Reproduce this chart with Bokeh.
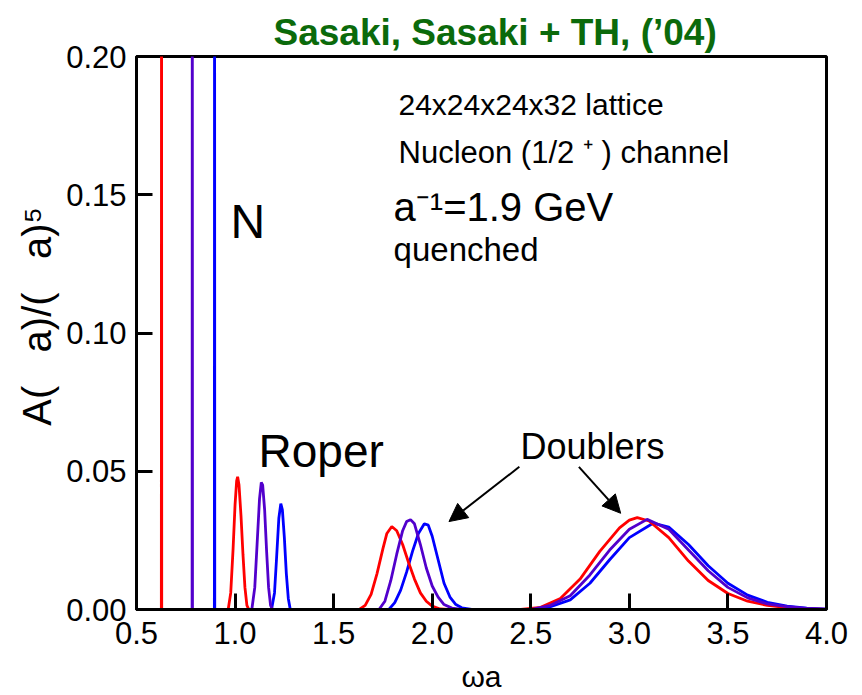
from bokeh.plotting import figure
from bokeh.models import FixedTicker, Label, Arrow, NormalHead, NumeralTickFormatter
from bokeh.embed import file_html
from bokeh.resources import INLINE

# ---- data (omega*a, spectral function) ----
red_x = [0.5, 0.626, 0.627, 0.628, 0.965, 0.978, 0.99, 1.0, 1.008, 1.013, 1.02, 1.03, 1.04, 1.05, 1.06, 1.07,
         1.63, 1.66, 1.69, 1.72, 1.75, 1.77, 1.795, 1.82, 1.85, 1.88, 1.91, 1.94, 1.97, 2.0, 2.04, 2.08,
         2.45, 2.55, 2.65, 2.75, 2.85, 2.95, 3.0, 3.04, 3.1, 3.2, 3.3, 3.4, 3.5, 3.6, 3.7, 3.8, 3.9, 4.0]
red_y = [0.0, 0.0, 0.30, 0.0, 0.0, 0.006, 0.022, 0.038, 0.0465, 0.048, 0.045, 0.034, 0.020, 0.008, 0.0015, 0.0,
         0.0, 0.0015, 0.0055, 0.013, 0.022, 0.0275, 0.030, 0.0285, 0.0235, 0.017, 0.011, 0.006, 0.003, 0.0012, 0.0002, 0.0,
         0.0, 0.0008, 0.004, 0.011, 0.021, 0.0295, 0.0323, 0.0332, 0.032, 0.026, 0.0175, 0.0105, 0.0058, 0.003, 0.0015, 0.0007, 0.0002, 0.0]

purple_x = [0.6, 0.782, 0.783, 0.784, 1.085, 1.1, 1.112, 1.124, 1.133, 1.14, 1.15, 1.16, 1.17, 1.18, 1.19,
            1.73, 1.76, 1.79, 1.82, 1.85, 1.87, 1.89, 1.91, 1.94, 1.97, 2.0, 2.03, 2.06, 2.1, 2.15,
            2.5, 2.6, 2.7, 2.8, 2.9, 3.0, 3.09, 3.2, 3.3, 3.4, 3.5, 3.6, 3.7, 3.8, 3.9, 4.0]
purple_y = [0.0, 0.0, 0.30, 0.0, 0.0, 0.008, 0.024, 0.040, 0.046, 0.045, 0.036, 0.021, 0.008, 0.0015, 0.0,
            0.0, 0.003, 0.0105, 0.020, 0.0285, 0.0318, 0.0325, 0.031, 0.0235, 0.015, 0.0085, 0.0045, 0.0018, 0.0005, 0.0,
            0.0, 0.0015, 0.005, 0.0125, 0.0215, 0.029, 0.0326, 0.029, 0.0215, 0.014, 0.008, 0.0042, 0.002, 0.001, 0.0004, 0.0001]

blue_x = [0.5, 0.895, 0.896, 0.897, 1.185, 1.2, 1.21, 1.222, 1.232, 1.24, 1.25, 1.26, 1.27, 1.28,
          1.78, 1.81, 1.84, 1.87, 1.9, 1.93, 1.96, 1.98, 2.0, 2.03, 2.06, 2.09, 2.12, 2.15, 2.2,
          2.5, 2.6, 2.7, 2.8, 2.9, 3.0, 3.12, 3.2, 3.3, 3.4, 3.5, 3.6, 3.7, 3.8, 3.9, 4.0]
blue_y = [0.0, 0.0, 0.30, 0.0, 0.0, 0.006, 0.018, 0.033, 0.0383, 0.036, 0.026, 0.013, 0.004, 0.0,
          0.0, 0.0025, 0.007, 0.0135, 0.021, 0.0275, 0.031, 0.0305, 0.0265, 0.018, 0.0095, 0.0045, 0.0018, 0.0006, 0.0,
          0.0, 0.001, 0.0035, 0.0095, 0.018, 0.026, 0.0312, 0.0298, 0.0235, 0.0158, 0.0095, 0.0052, 0.0026, 0.0012, 0.0005, 0.0001]

x_ticks = [0.5, 1.0, 1.5, 2.0, 2.5, 3.0, 3.5, 4.0]
y_ticks = [0.0, 0.05, 0.10, 0.15, 0.20]

# arrows: (start x, start y, end x, end y)
arrow_1 = [2.442, 0.0516, 2.085, 0.0318]
arrow_2 = [2.744, 0.0516, 2.956, 0.0348]

FONT = "Liberation Sans"
RED, PURPLE, BLUE = "#ff0000", "#5200cc", "#0000ff"

p = figure(width=862, height=695, x_range=(0.5, 4.0), y_range=(0.0, 0.2),
           output_backend="svg", toolbar_location=None,
           min_border_left=136, min_border_right=36, min_border_top=56, min_border_bottom=84)

p.title.text = "Sasaki, Sasaki + TH, (\u201904)"
p.title.text_font = FONT
p.title.text_font_size = "37px"
p.title.text_font_style = "bold"
p.title.text_color = "#0b6a0b"
p.title.align = "left"
p.title.offset = 137
p.title.standoff = 8

p.grid.visible = False
p.outline_line_color = "black"
p.outline_line_width = 3
p.outline_line_alpha = 1.0

for ax in (p.xaxis[0], p.yaxis[0]):
    ax.axis_line_width = 3
    ax.major_tick_line_width = 3
    ax.major_tick_in = 16
    ax.major_tick_out = 0
    ax.minor_tick_line_color = None
    ax.major_label_text_font = FONT
    ax.major_label_text_font_size = "31px"
    ax.major_label_text_color = "black"
    ax.axis_label_text_font = FONT
    ax.axis_label_text_font_style = "normal"
    ax.axis_label_text_color = "black"

p.xaxis.ticker = FixedTicker(ticks=x_ticks)
p.xaxis.formatter = NumeralTickFormatter(format="0.0")
p.xaxis.major_label_standoff = 12
p.xaxis.axis_label = "ωa"
p.xaxis.axis_label_text_font_size = "30px"
p.xaxis.axis_label_standoff = 13

p.yaxis.ticker = FixedTicker(ticks=y_ticks)
p.yaxis.formatter = NumeralTickFormatter(format="0.00")
p.yaxis.major_label_standoff = 10
p.yaxis.axis_label = "\u00a0\u00a0\u00a0A(\u00a0\u00a0\u00a0a)/(\u00a0\u00a0\u00a0a)⁵"
p.yaxis.axis_label_text_font_size = "40px"
p.yaxis.axis_label_standoff = 4

p.line(blue_x, blue_y, line_color=BLUE, line_width=2.8)
p.line(red_x, red_y, line_color=RED, line_width=2.8)
p.line(purple_x, purple_y, line_color=PURPLE, line_width=2.8)

def lab(x, y, text, size):
    p.add_layout(Label(x=x, y=y, text=text, text_font=FONT, text_font_size=size,
                       text_color="black", text_align="left", text_baseline="middle"))

lab(1.829, 0.1825, "24x24x24x32 lattice", "30px")
lab(1.829, 0.1652, "Nucleon (1/2 ⁺ ) channel", "31px")
lab(1.804, 0.1457, "a⁻¹=1.9 GeV", "40px")
lab(1.804, 0.1302, "quenched", "33px")
lab(0.977, 0.1403, "N", "48px")
lab(1.119, 0.0575, "Roper", "46px")
lab(2.448, 0.0589, "Doublers", "36px")

for a in (arrow_1, arrow_2):
    p.add_layout(Arrow(x_start=a[0], y_start=a[1], x_end=a[2], y_end=a[3],
                       line_color="black", line_width=2,
                       end=NormalHead(size=18, fill_color="black", line_color="black")))

open("out.html", "w").write(file_html(p, INLINE))
